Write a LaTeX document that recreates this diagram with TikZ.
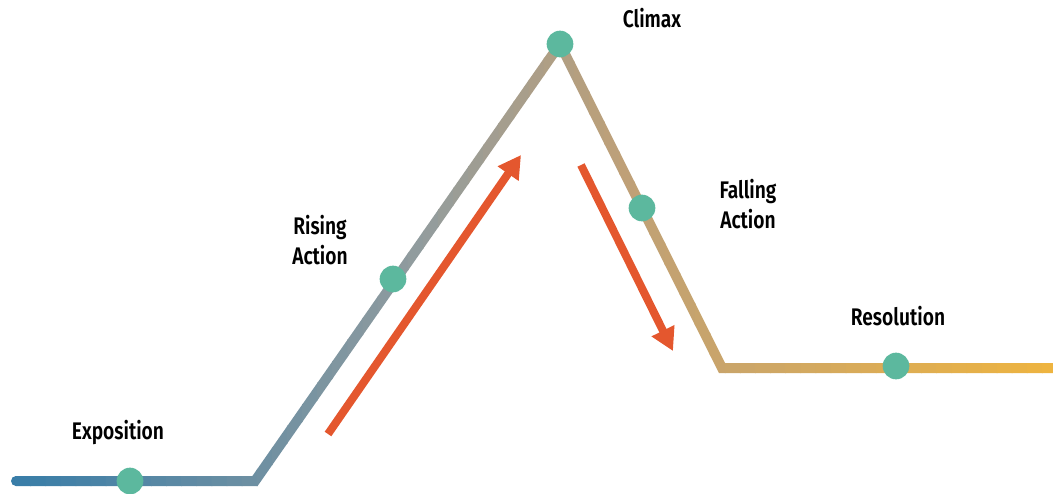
\documentclass[tikz,border=0pt]{standalone}
\usepackage{fontspec}
\newfontfamily\labelfont[FakeStretch=0.8]{Fira Sans SemiBold}
\usetikzlibrary{arrows.meta}

\definecolor{lineA}{RGB}{56,125,168}
\definecolor{lineB}{RGB}{146,156,158}
\definecolor{lineC}{RGB}{190,160,120}
\definecolor{lineD}{RGB}{238,180,64}
\definecolor{dotteal}{RGB}{92,184,158}
\definecolor{arrowred}{RGB}{228,87,46}

\tikzset{
  plotline/.style={line width=7.5pt, line join=miter, line cap=round},
  dot/.style={circle, fill=dotteal, minimum size=20pt, inner sep=0pt},
  lbl/.style={font=\labelfont\fontsize{18}{22.5}\selectfont, align=center, inner sep=0.75pt},
  redarrow/.style={draw=arrowred, line width=6pt, -{Triangle[length=17pt,width=18pt]}}
}

\begin{document}
\begin{tikzpicture}[x=0.75pt,y=0.75pt,yscale=-1,xscale=1]
\useasboundingbox (0,0) rectangle (1053,493);

% turning points of the plot line
\coordinate (start) at (16,481);
\coordinate (base) at (255,481);
\coordinate (peak) at (560,44);
\coordinate (foot) at (722,368);
\coordinate (end) at (1062,368);

%Gradient line, cut in vertical strips
\foreach \i in {0,...,69} {
  \pgfmathsetmacro\xa{\i*15.1}
  \pgfmathsetmacro\xm{\xa+7.5}
  \ifdim\xm pt<420pt
    \pgfmathsetmacro\p{max(0,min(100,(420-\xm)/4.05))}
    \colorlet{stripc}{lineA!\p!lineB}
  \else\ifdim\xm pt<620pt
    \pgfmathsetmacro\p{(620-\xm)/2}
    \colorlet{stripc}{lineB!\p!lineC}
  \else
    \pgfmathsetmacro\p{max(0,min(100,(1053-\xm)/4.33))}
    \colorlet{stripc}{lineC!\p!lineD}
  \fi\fi
  \begin{scope}
    \clip (\xa,-10) rectangle (\xa+16,510);
    \draw [plotline, draw=stripc] (start) -- (base) -- (peak) -- (foot) -- (end);
  \end{scope}
}

%Shape: Circle
\node [dot] (expo) at (130,481) {};
\node [dot] (rise) at (393,279) {};
\node [dot] (clim) at (560,44) {};
\node [dot] (fall) at (642,208) {};
\node [dot] (reso) at (896,366) {};

%Straight Lines
\coordinate (riseTail) at (328,434);
\coordinate (riseTip) at (521,155);
\draw [redarrow] (riseTail) -- (riseTip);
%Straight Lines
\coordinate (fallTail) at (581,165);
\coordinate (fallTip) at (673,351);
\draw [redarrow] (fallTail) -- (fallTip);

% Text Node
\node [lbl] (expoText) at (118,432) {Exposition};
% Text Node
\node [lbl] (riseText) at (320,240) {Rising\\Action};
% Text Node
\node [lbl] (climText) at (652,18) {Climax};
% Text Node
\node [lbl] (fallText) at (748,204) {Falling\\Action};
% Text Node
\node [lbl] (resoText) at (898,316) {Resolution};

\end{tikzpicture}
\end{document}
